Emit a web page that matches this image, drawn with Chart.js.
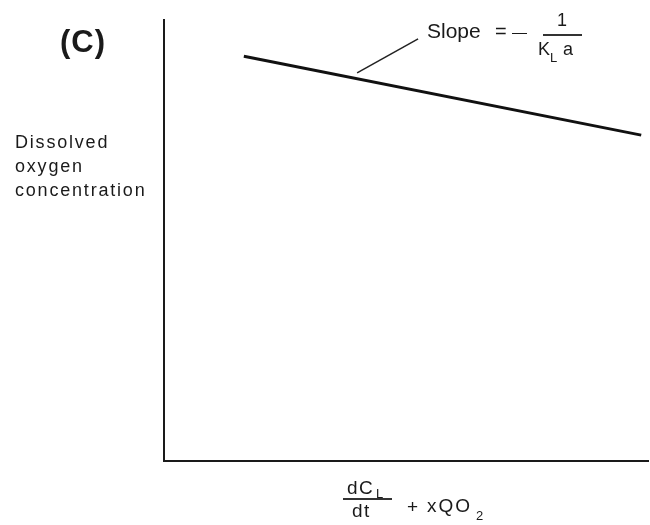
<!DOCTYPE html>
<html>
<head>
<meta charset="utf-8">
<script src="https://cdn.jsdelivr.net/npm/chart.js@4"></script>
<style>
  html, body { margin: 0; padding: 0; background: #fff; }
  #wrap { position: relative; width: 650px; height: 525px; overflow: hidden; }
  #wrap canvas { position: absolute; left: 0; top: 0; }
  .t { position: absolute; font-family: "Liberation Sans", Arial, sans-serif; color: #1a1a1a; line-height: 1; white-space: nowrap; }
  .bar { position: absolute; background: #333; }
</style>
</head>
<body>
<div id="wrap">
  <canvas id="c" width="650" height="525"></canvas>

  <div class="t" style="left:60px;top:26px;font-size:31px;font-weight:bold;letter-spacing:1px;">(C)</div>

  <div class="t" style="left:15px;top:133px;font-size:18px;letter-spacing:1.8px;">Dissolved</div>
  <div class="t" style="left:15px;top:157px;font-size:18px;letter-spacing:1.8px;">oxygen</div>
  <div class="t" style="left:15px;top:181px;font-size:18px;letter-spacing:1.8px;">concentration</div>

  <div class="t" style="left:427px;top:20px;font-size:21px;">Slope</div>
  <div class="t" style="left:495px;top:21px;font-size:20px;">=</div>
  <div class="t" style="left:512px;top:24px;font-size:15px;">—</div>
  <div class="t" style="left:557px;top:11px;font-size:18px;">1</div>
  <div class="bar" style="left:543px;top:34px;width:39px;height:1.5px;"></div>
  <div class="t" style="left:538px;top:40px;font-size:18px;">K</div>
  <div class="t" style="left:550px;top:51px;font-size:13px;">L</div>
  <div class="t" style="left:563px;top:40px;font-size:18px;">a</div>

  <div class="t" style="left:347px;top:478px;font-size:19px;letter-spacing:1.5px;">dC</div>
  <div class="t" style="left:376px;top:487px;font-size:13px;">L</div>
  <div class="bar" style="left:343px;top:498px;width:49px;height:1.5px;"></div>
  <div class="t" style="left:352px;top:501px;font-size:19px;letter-spacing:1.5px;">dt</div>
  <div class="t" style="left:407px;top:497px;font-size:19px;">+</div>
  <div class="t" style="left:427px;top:496px;font-size:19px;letter-spacing:2px;">xQO</div>
  <div class="t" style="left:476px;top:509px;font-size:13px;">2</div>
</div>
<script>
// Straight-line relationship: dissolved oxygen vs. (dC_L/dt + xQO2)
const lineX = [1.65, 9.86];
const lineY = [9.18, 7.39];

// Short leader from the line up to the slope annotation
const leaderX = [3.99, 5.25];
const leaderY = [8.80, 9.57];

const axisMin = 0;
const axisMax = 10;

const toPoints = (xs, ys) => xs.map((x, i) => ({ x: x, y: ys[i] }));

const hiddenAxis = (isY) => ({
  type: 'linear',
  min: axisMin,
  max: axisMax,
  ticks: { display: false },
  grid: { display: true, color: 'transparent', drawTicks: false, drawOnChartArea: false },
  border: { display: true, color: '#1a1a1a', width: 2 },
  title: { display: false },
  afterFit: (scale) => { if (isY) { scale.width = 0; } else { scale.height = 0; } }
});

new Chart(document.getElementById('c'), {
  type: 'scatter',
  data: {
    datasets: [
      {
        data: toPoints(lineX, lineY),
        showLine: true,
        borderColor: '#111',
        borderWidth: 3,
        pointRadius: 0,
        fill: false
      },
      {
        data: toPoints(leaderX, leaderY),
        showLine: true,
        borderColor: '#222',
        borderWidth: 1.5,
        pointRadius: 0,
        fill: false
      }
    ]
  },
  options: {
    responsive: false,
    animation: false,
    devicePixelRatio: 1,
    layout: { padding: { left: 164, right: 2, top: 20, bottom: 64 } },
    plugins: { legend: { display: false }, tooltip: { enabled: false } },
    scales: { x: hiddenAxis(false), y: hiddenAxis(true) }
  }
});
</script>
</body>
</html>
